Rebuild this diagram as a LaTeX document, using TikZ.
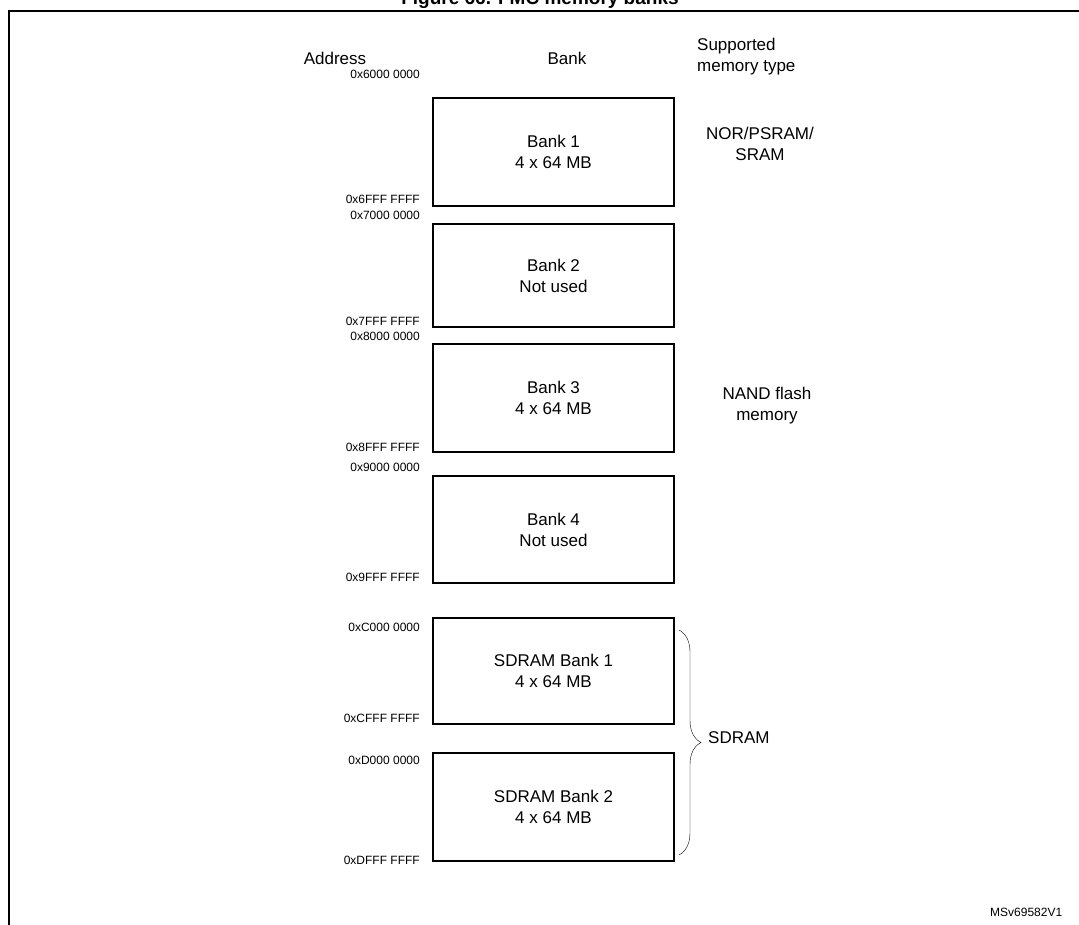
\documentclass[tikz,border=0pt]{standalone}
\usepackage{fontspec}
\setmainfont{Liberation Sans}
\usetikzlibrary{decorations.pathreplacing}
\begin{document}
\begin{tikzpicture}[x=1pt,y=-1pt,
  bank/.style={draw,line width=2.4pt,minimum width=241pt,inner sep=0pt,align=center,font=\fontsize{17}{21}\selectfont},
  addr/.style={anchor=east,inner sep=0pt,font=\fontsize{12}{14}\selectfont},
  lbl/.style={inner sep=0pt,align=center,font=\fontsize{17}{21}\selectfont}]
\useasboundingbox (0,0) rectangle (1079,925);
\clip (0,0) rectangle (1079,925);
\node[font=\bfseries\fontsize{19}{22}\selectfont] (title) at (540,0) {Figure 66. FMC memory banks};
\draw[line width=2pt] (9,925) -- (9,11) -- (1085,11);
\node[lbl] (ha) at (335,58) {Address};
\node[lbl] (hb) at (567,58) {Bank};
\node[lbl,anchor=west,align=left] (hs) at (697,57) {Supported\\memory type};
\foreach \n/\t/\b/\txt/\ta/\ba/\ya/\yb in {
 b1/98/206/{Bank 1\\4 x 64 MB}/{0x6000 0000}/{0x6FFF FFFF}/74/199,
 b2/224/327/{Bank 2\\Not used}/{0x7000 0000}/{0x7FFF FFFF}/215/321,
 b3/344/452/{Bank 3\\4 x 64 MB}/{0x8000 0000}/{0x8FFF FFFF}/336/447,
 b4/476/583/{Bank 4\\Not used}/{0x9000 0000}/{0x9FFF FFFF}/467/577,
 s1/618/724/{SDRAM Bank 1\\4 x 64 MB}/{0xC000 0000}/{0xCFFF FFFF}/627/718,
 s2/753/861/{SDRAM Bank 2\\4 x 64 MB}/{0xD000 0000}/{0xDFFF FFFF}/760/860}{
  \node[bank,minimum height={\b-\t}] (\n) at (553.5,{(\t+\b)/2}) {\txt};
  \node[addr] (\n a) at (420,\ya) {\ta};
  \node[addr] (\n z) at (420,\yb) {\ba};
}
\node[lbl] (nor) at (760,144) {NOR/PSRAM/\\SRAM};
\node[lbl] (nand) at (767,406) {NAND flash\\memory};
\coordinate (bt) at (679,630);
\coordinate (bb) at (679,855);
\draw[decorate,decoration={brace,amplitude=22pt}] (bt) -- (bb);
\node[lbl,anchor=west] (sd) at (708,738) {SDRAM};
\node[inner sep=0pt,anchor=west,font=\fontsize{12}{14}\selectfont] (id) at (990,912) {MSv69582V1};
\end{tikzpicture}
\end{document}
